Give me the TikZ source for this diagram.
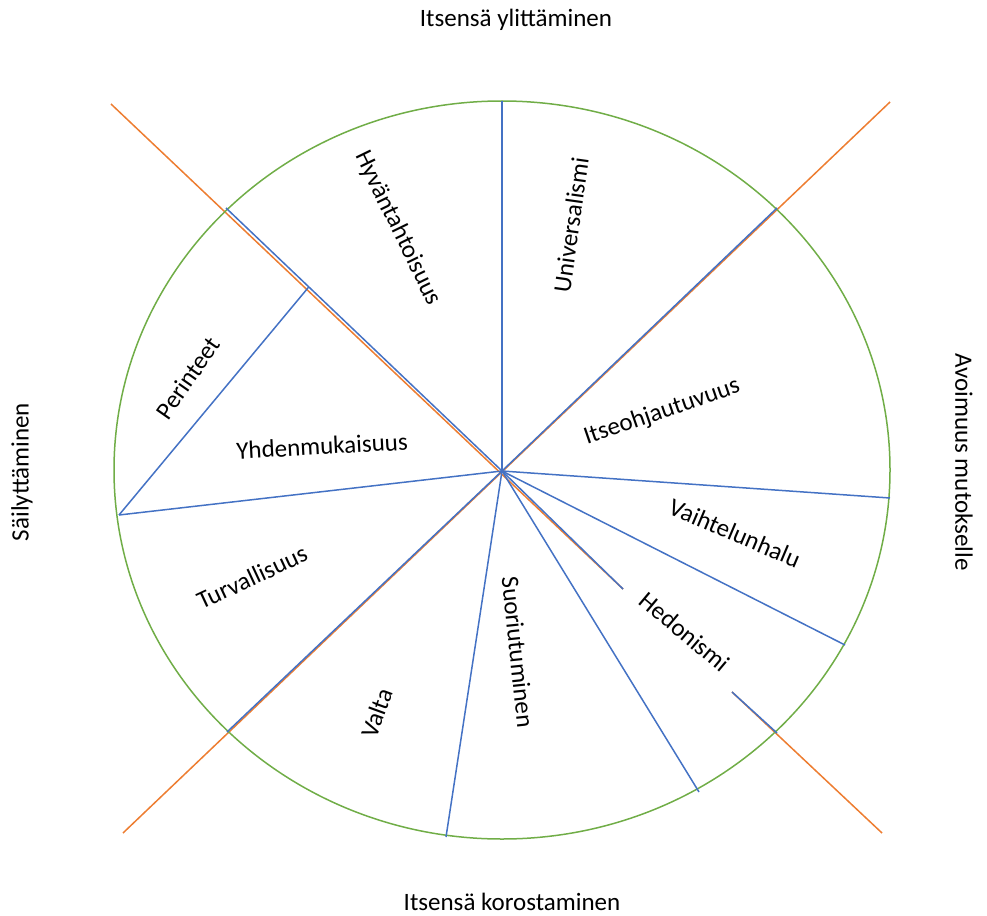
\documentclass[tikz,border=0pt]{standalone}
\usepackage{fontspec}
\setmainfont{Carlito}
\usetikzlibrary{calc}
\definecolor{ringgreen}{RGB}{112,173,71}
\definecolor{spokeblue}{RGB}{68,114,196}
\definecolor{axisorange}{RGB}{237,125,49}
\begin{document}
\begin{tikzpicture}[x=1pt,y=-1pt,
  ring/.style={draw=ringgreen,line width=1.5pt},
  spoke/.style={draw=spokeblue,line width=1.5pt},
  axis/.style={draw=axisorange,line width=1.5pt},
  valuelabel/.style={font=\fontsize{25}{30}\selectfont,inner sep=0pt,anchor=center},
  dimlabel/.style={font=\fontsize{25}{30}\selectfont,inner sep=0pt,anchor=center}]
\useasboundingbox (0,0) rectangle (987,915);

% centre of the value circle and the points where spokes meet it
\coordinate (c) at (502,471);
\coordinate (n) at (502,101);
\coordinate (nw) at (226,208);
\coordinate (w) at (119,515);
\coordinate (sw) at (227,732);
\coordinate (s) at (446,837);
\coordinate (sse) at (699,792);
\coordinate (ese) at (845,645);
\coordinate (e) at (890,498);
\coordinate (ne) at (777,208);
\coordinate (segA) at (623,589);
\coordinate (segB) at (732,692);
\coordinate (se) at (777,733);
\coordinate (chord) at ($(c)!0.70!(nw)$);

% the two diagonal axes
\coordinate (axNW) at (111,104);
\coordinate (axSE) at (882,833);
\coordinate (axNE) at (890,102);
\coordinate (axSW) at (123,833);
\draw[axis] (axNW) -- (segA);
\draw[axis] (segB) -- (axSE);
\draw[axis] (axNE) -- (axSW);

% outer ring
\draw[ring] (502,470) ellipse [x radius=388, y radius=369];

% spokes dividing the values
\draw[spoke] (c) -- (n);
\draw[spoke] (c) -- (nw);
\draw[spoke] (c) -- (w);
\draw[spoke] (c) -- (sw);
\draw[spoke] (c) -- (s);
\draw[spoke] (c) -- (sse);
\draw[spoke] (c) -- (segA);
\draw[spoke] (segB) -- (se);
\draw[spoke] (c) -- (ese);
\draw[spoke] (c) -- (e);
\draw[spoke] (c) -- (ne);
\draw[spoke] (chord) -- (w);

% value labels
\node[valuelabel,rotate=-64] (hyv) at (398,228) {Hyväntahtoisuus};
\node[valuelabel,rotate=82] (uni) at (571,225) {Universalismi};
\node[valuelabel,rotate=55] (per) at (188,378) {Perinteet};
\node[valuelabel,rotate=3] (yhd) at (322,446) {Yhdenmukaisuus};
\node[valuelabel,rotate=19] (its) at (662,412) {Itseohjautuvuus};
\node[valuelabel,rotate=-23] (vai) at (735,533) {Vaihtelunhalu};
\node[valuelabel,rotate=-40] (hed) at (685,632) {Hedonismi};
\node[valuelabel,rotate=25] (tur) at (252,577) {Turvallisuus};
\node[valuelabel,rotate=70] (val) at (377,713) {Valta};
\node[valuelabel,rotate=-84] (suo) at (518,652) {Suoriutuminen};

% higher-order dimensions
\node[dimlabel] (top) at (516,20) {Itsensä ylittäminen};
\node[dimlabel] (bottom) at (512,902) {Itsensä korostaminen};
\node[dimlabel,rotate=90] (left) at (22,472) {Säilyttäminen};
\node[dimlabel,rotate=-90] (right) at (964,462) {Avoimuus mutokselle};
\end{tikzpicture}
\end{document}
